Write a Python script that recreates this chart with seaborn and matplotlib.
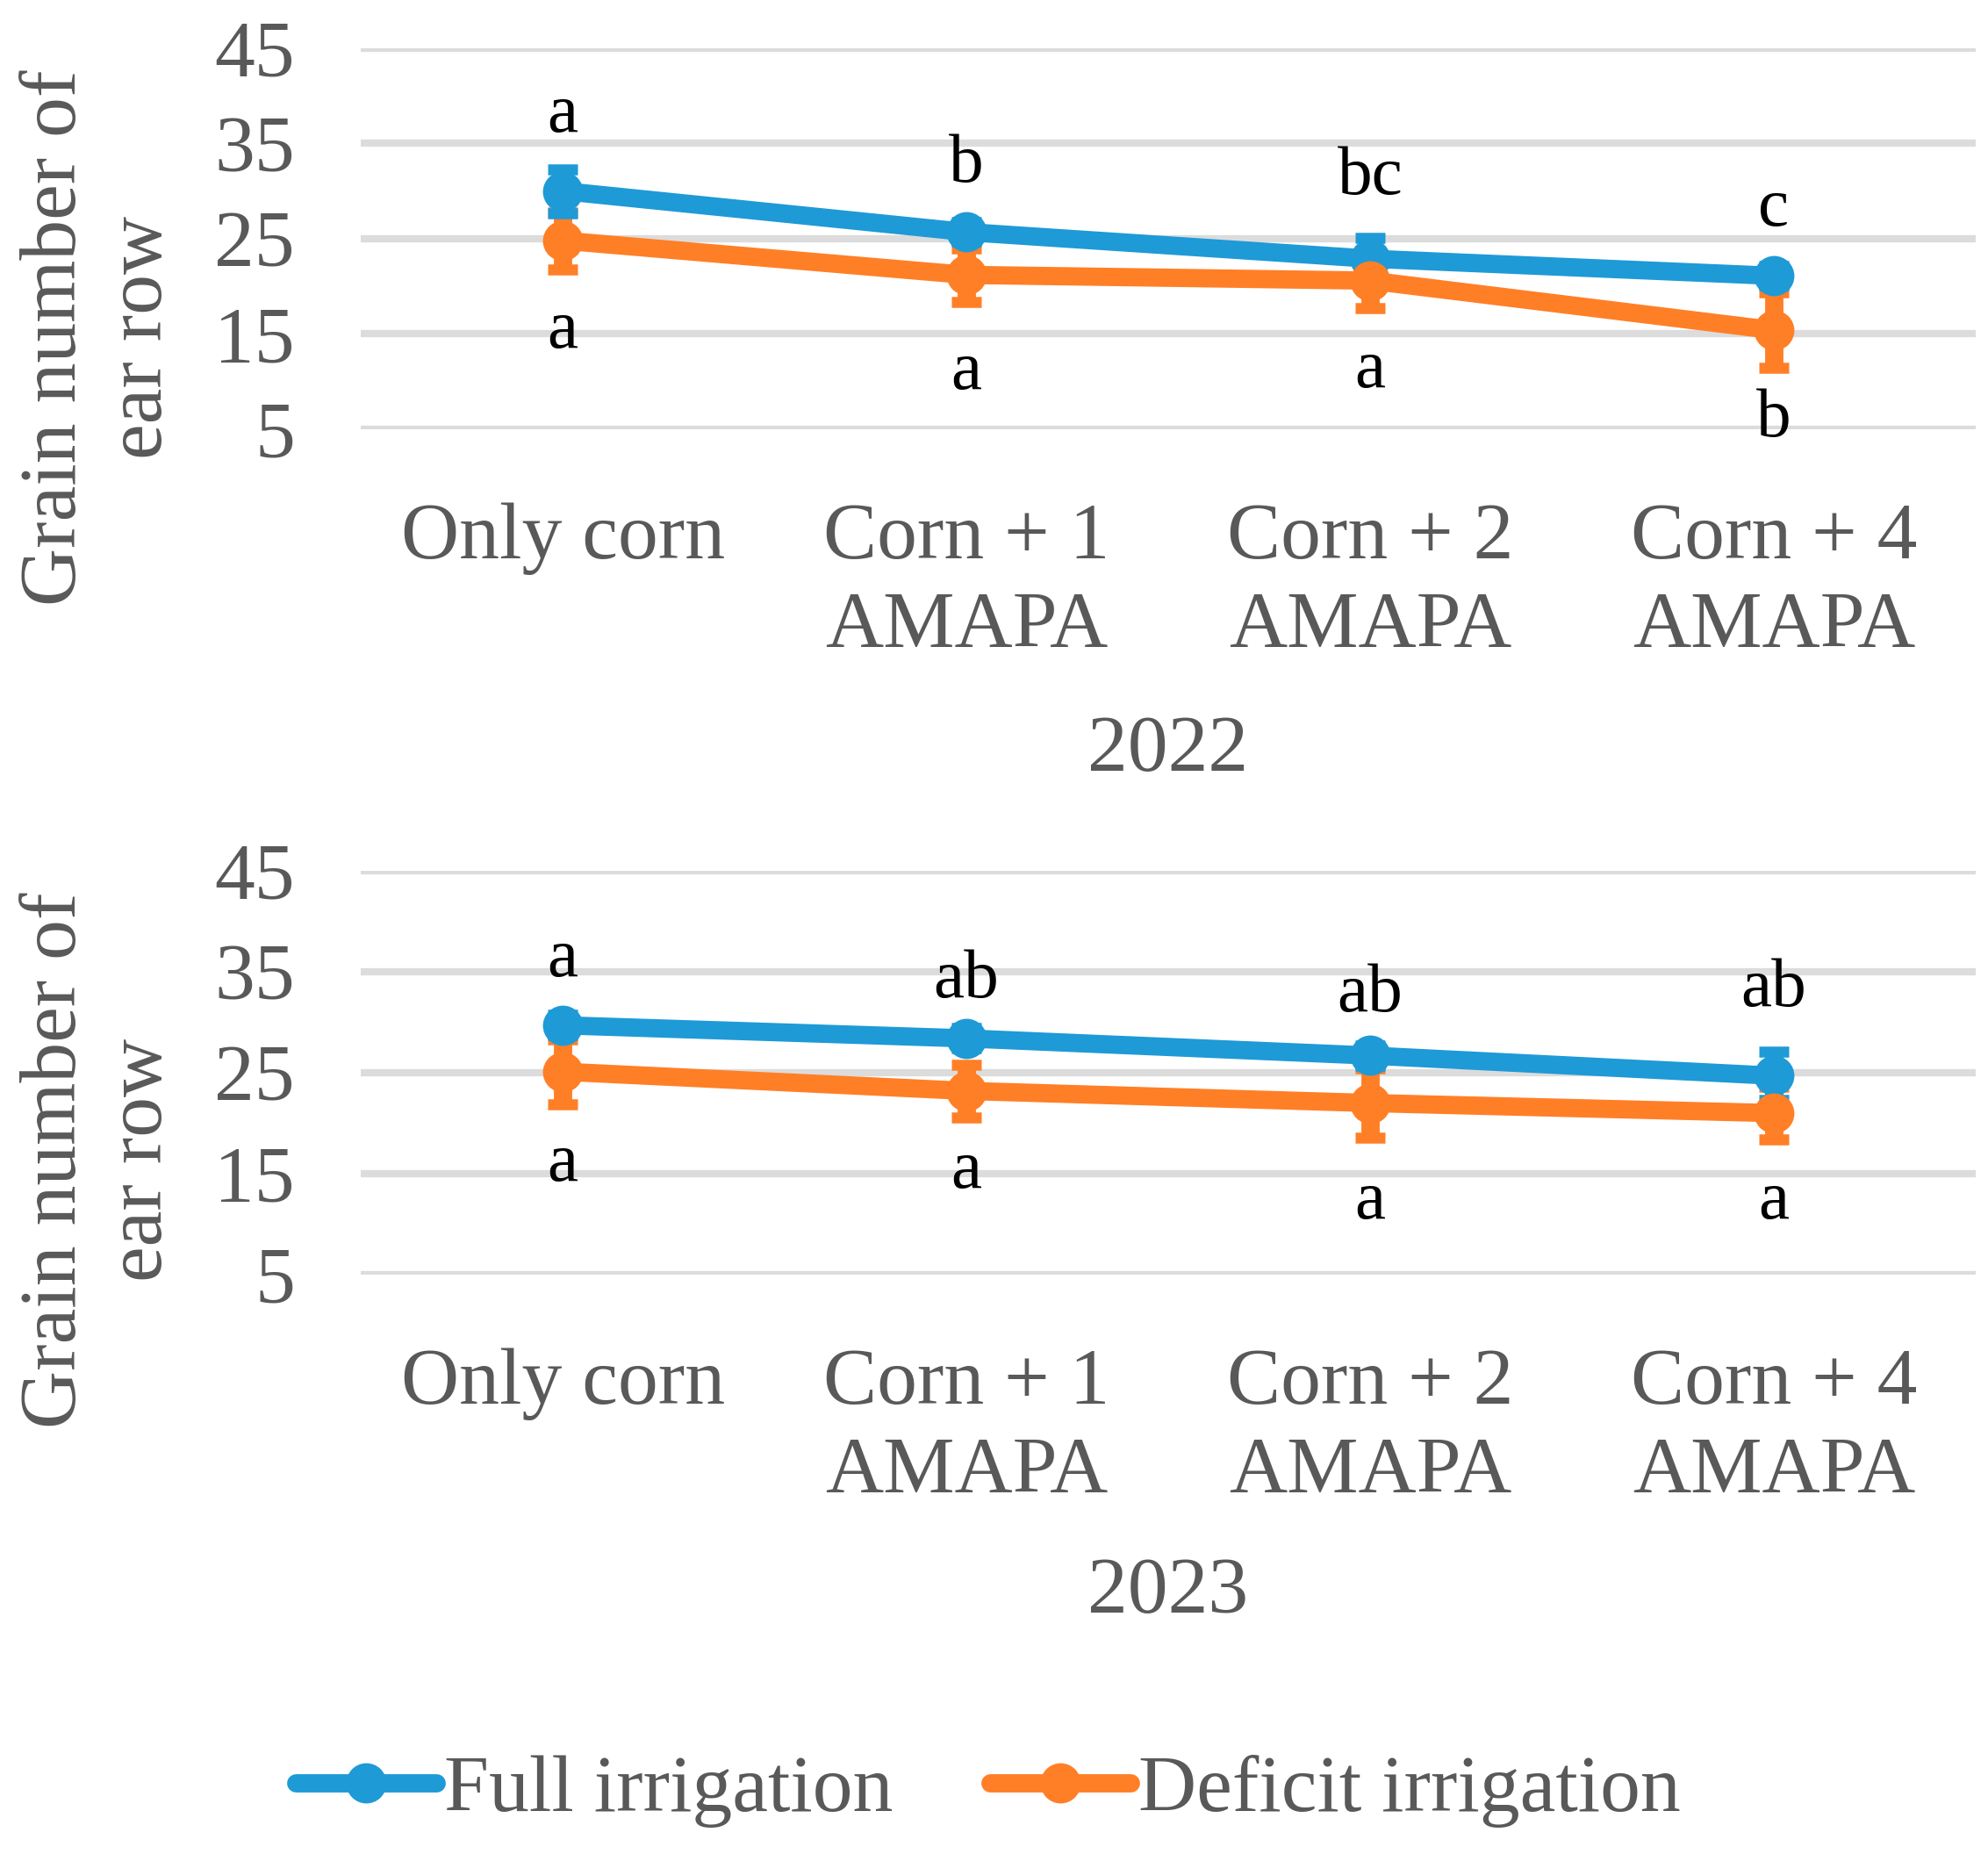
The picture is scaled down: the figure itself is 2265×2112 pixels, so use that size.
import matplotlib
matplotlib.use("Agg")
import matplotlib.pyplot as plt
import seaborn as sns
import pandas as pd

categories = ["Only corn", "Corn + 1\nAMAPA", "Corn + 2\nAMAPA", "Corn + 4\nAMAPA"]
series_names = ["Full irrigation", "Deficit irrigation"]

full_2022 = [30.0, 25.7, 22.9, 21.1]
full_2022_err = [2.3, 1.0, 2.2, 1.0]
deficit_2022 = [24.8, 21.2, 20.6, 15.4]
deficit_2022_err = [3.0, 2.8, 2.9, 4.0]

full_2023 = [29.7, 28.4, 26.7, 24.7]
full_2023_err = [1.0, 1.0, 1.0, 2.4]
deficit_2023 = [25.1, 23.2, 22.0, 21.0]
deficit_2023_err = [3.2, 2.6, 3.4, 2.6]

letters_full_2022 = ["a", "b", "bc", "c"]
letters_deficit_2022 = ["a", "a", "a", "b"]
letters_full_2023 = ["a", "ab", "ab", "ab"]
letters_deficit_2023 = ["a", "a", "a", "a"]

blue = "#1E9AD6"
orange = "#FF7F27"
grey = "#595959"

sns.set_style("white")
plt.rcParams['font.family'] = ['Liberation Serif', 'DejaVu Serif']


def panel(ax, year, full, full_err, deficit, deficit_err, let_full, let_def, up_off, down_off):
    df = pd.DataFrame({
        "treatment": categories * 2,
        "value": full + deficit,
        "series": [series_names[0]] * 4 + [series_names[1]] * 4,
    })
    ax.errorbar(categories, deficit, yerr=deficit_err, fmt="none", ecolor=orange,
                elinewidth=5, capsize=4, capthick=3, zorder=2)
    ax.errorbar(categories, full, yerr=full_err, fmt="none", ecolor=blue,
                elinewidth=5, capsize=4, capthick=3, zorder=2)
    sns.lineplot(data=df, x="treatment", y="value", hue="series", sort=False,
                 palette=[blue, orange], marker="o", markersize=11, markeredgewidth=0,
                 linewidth=5, ax=ax, legend=False, zorder=3)

    for i in range(4):
        ax.text(i, full[i] + up_off[i], let_full[i], ha="center", va="center",
                fontsize=19, color="black")
        ax.text(i, deficit[i] - down_off[i], let_def[i], ha="center", va="center",
                fontsize=19, color="black")

    ax.set_xlim(-0.5, 3.5)
    ax.set_ylim(5, 45)
    ax.set_yticks([5, 15, 25, 35, 45])
    ax.yaxis.grid(True, color="#dcdcdc", linewidth=2)
    ax.xaxis.grid(False)
    for s in ax.spines.values():
        s.set_visible(False)
    ax.tick_params(axis="both", length=0, labelsize=22, colors=grey)
    ax.tick_params(axis="y", pad=18)
    ax.tick_params(axis="x", pad=20)
    for lab in ax.get_xticklabels():
        lab.set_linespacing(1.3)
    ax.set_xlabel(year, fontsize=22, color=grey)
    ax.set_ylabel("Grain number of\near row", fontsize=22, color=grey, linespacing=1.25)


fig = plt.figure(figsize=(7.55, 7.04), dpi=300)
ax1 = fig.add_axes([0.1815, 0.7685, 0.8123, 0.2055])
ax2 = fig.add_axes([0.1815, 0.3125, 0.8123, 0.2178])

panel(ax1, "2022", full_2022, full_2022_err, deficit_2022, deficit_2022_err,
      letters_full_2022, letters_deficit_2022,
      [8.0, 7.0, 8.5, 7.0], [9.5, 10.2, 9.5, 9.4])
panel(ax2, "2023", full_2023, full_2023_err, deficit_2023, deficit_2023_err,
      letters_full_2023, letters_deficit_2023,
      [6.5, 5.7, 6.0, 8.5], [9.2, 8.0, 9.8, 8.8])

ax1.yaxis.set_label_coords(-0.113, 0.24)
ax2.yaxis.set_label_coords(-0.113, 0.284)
ax1.xaxis.set_label_coords(0.5, -0.75)
ax2.xaxis.set_label_coords(0.5, -0.70)

handles = [plt.Line2D([], [], color=blue, linewidth=5, marker="o", markersize=11, markeredgewidth=0),
           plt.Line2D([], [], color=orange, linewidth=5, marker="o", markersize=11, markeredgewidth=0)]
leg = fig.legend(handles, series_names, loc="center", bbox_to_anchor=(0.497, 0.034),
                 ncol=2, frameon=False, fontsize=22, handlelength=1.75, handletextpad=0.1,
                 columnspacing=1.2)
for t in leg.get_texts():
    t.set_color(grey)

fig.savefig("out.png", dpi=300)
